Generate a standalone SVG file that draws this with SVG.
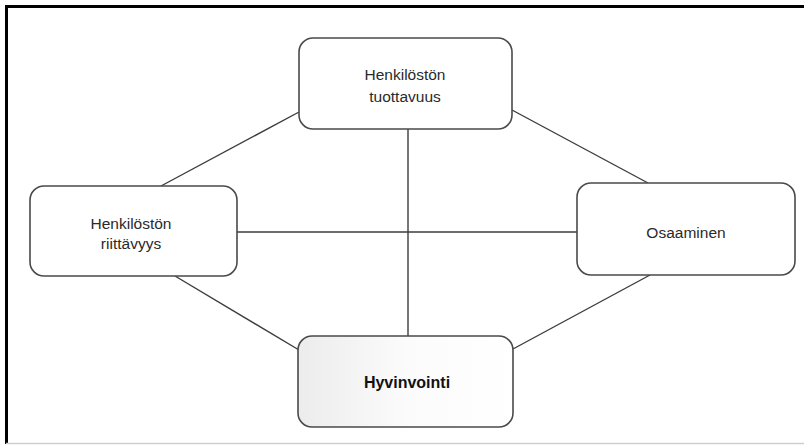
<svg xmlns="http://www.w3.org/2000/svg" width="804" height="445" viewBox="0 0 804 445">
  <style>
    .box { fill: #ffffff; stroke: #4a4a4a; stroke-width: 1.6; }
    .lbl { font-family: "Liberation Sans", Arial, sans-serif; font-size: 15.5px; fill: #2a2a2a; text-anchor: middle; }
    .bold { font-weight: bold; font-size: 16px; fill: #111111; }
    .conn line { stroke: #3c3c3c; stroke-width: 1.4; }
  </style>
  <defs>
    <linearGradient id="shade" x1="0" y1="0" x2="1" y2="0">
      <stop offset="0" stop-color="#ececec"/>
      <stop offset="0.5" stop-color="#fbfbfb"/>
      <stop offset="1" stop-color="#ffffff"/>
    </linearGradient>
  </defs>

  <rect x="0" y="0" width="804" height="445" fill="#ffffff"/>
  <!-- page frame -->
  <path d="M6.5 444 V6.5 H804" fill="none" stroke="#000000" stroke-width="3"/>
  <line x1="6" y1="443.5" x2="804" y2="443.5" stroke="#cfcfcf" stroke-width="1.5"/>

  <g id="connectors" class="conn">
    <line x1="299" y1="112" x2="161" y2="186"/>
    <line x1="512" y1="110" x2="648" y2="183"/>
    <line x1="408" y1="129" x2="408" y2="336"/>
    <line x1="237" y1="232" x2="577" y2="232"/>
    <line x1="175" y1="276" x2="299" y2="350"/>
    <line x1="513" y1="349" x2="650" y2="275"/>
  </g>

  <g id="tuottavuus">
    <rect class="box" x="299" y="38" width="213" height="91" rx="14"/>
    <text class="lbl" x="405" y="80">Henkilöstön</text>
    <text class="lbl" x="405" y="102">tuottavuus</text>
  </g>

  <g id="riittavyys">
    <rect class="box" x="30" y="186" width="207" height="90" rx="14"/>
    <text class="lbl" x="131" y="229">Henkilöstön</text>
    <text class="lbl" x="131" y="249">riittävyys</text>
  </g>

  <g id="osaaminen">
    <rect class="box" x="577" y="183" width="218" height="92" rx="14"/>
    <text class="lbl" x="686" y="238">Osaaminen</text>
  </g>

  <g id="hyvinvointi">
    <rect class="box" x="298" y="336" width="215" height="91" rx="14" style="fill:url(#shade)"/>
    <text class="lbl bold" x="407" y="388">Hyvinvointi</text>
  </g>
</svg>
